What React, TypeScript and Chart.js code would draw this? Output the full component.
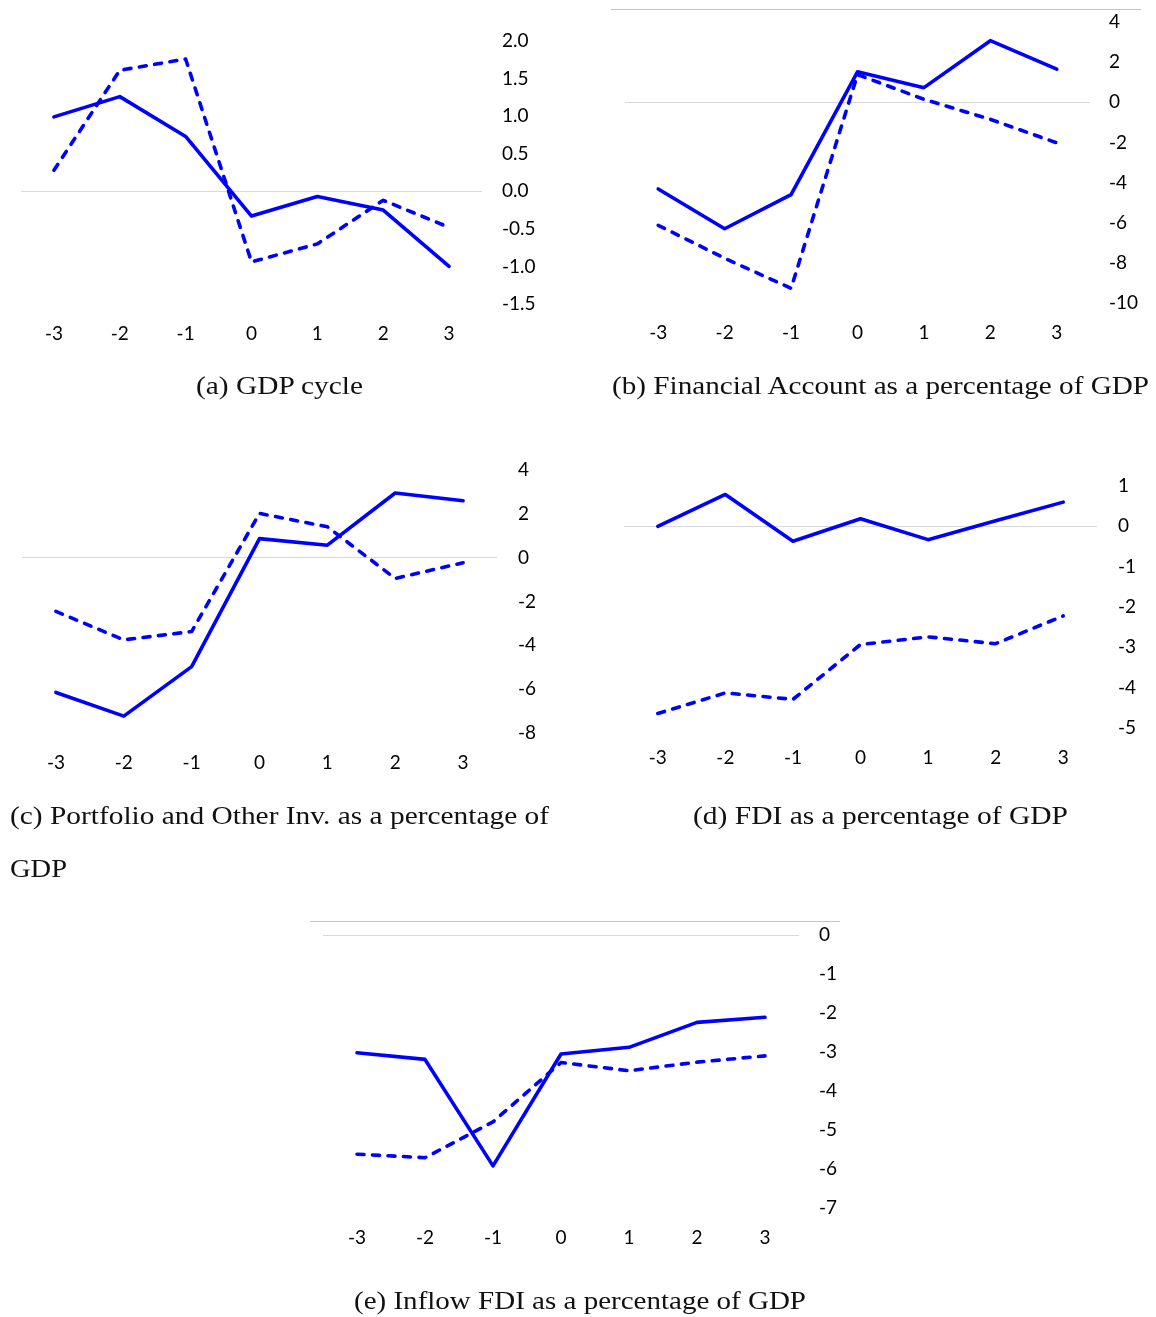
import React, { useEffect, useRef } from 'react';
import { Chart, registerables } from 'chart.js';

Chart.register(...registerables);

// ---------- data ----------
const periods = ['-3', '-2', '-1', '0', '1', '2', '3'];

const gdpSolid = [0.99, 1.26, 0.73, -0.33, -0.07, -0.25, -1.0];
const gdpDashed = [0.28, 1.61, 1.76, -0.94, -0.7, -0.12, -0.48];

const faSolid = [-4.32, -6.3, -4.6, 1.52, 0.73, 3.07, 1.65];
const faDashed = [-6.13, -7.77, -9.27, 1.38, 0.15, -0.85, -2.02];

const portSolid = [-6.15, -7.23, -4.97, 0.87, 0.57, 2.95, 2.6];
const portDashed = [-2.45, -3.75, -3.37, 2.02, 1.41, -0.95, -0.23];

const fdiSolid = [0.0, 0.79, -0.37, 0.19, -0.33, 0.14, 0.6];
const fdiDashed = [-4.64, -4.13, -4.29, -2.93, -2.74, -2.91, -2.22];

const inflowSolid = [-3.02, -3.19, -5.92, -3.05, -2.88, -2.24, -2.11];
const inflowDashed = [-5.62, -5.71, -4.79, -3.27, -3.48, -3.26, -3.1];

const captionA = '(a) GDP cycle';
const captionB = '(b) Financial Account as a percentage of GDP';
const captionC1 = '(c) Portfolio and Other Inv. as a percentage of';
const captionC2 = 'GDP';
const captionD = '(d) FDI as a percentage of GDP';
const captionE = '(e) Inflow FDI as a percentage of GDP';

// ---------- layout constants ----------
const PADT = 40;
const YW = 70;
const XH = 50;
const BLUE = '#0000ff';
const TICK_FONT = { family: 'Lato, "Open Sans", sans-serif', size: 19 };

type PanelProps = {
  plotLeft: number;
  plotTop: number;
  plotRight: number;
  plotBottom: number;
  yMin: number;
  yMax: number;
  step: number;
  decimals: number;
  yPad: number;
  xPad: number;
  solid: number[];
  dashed: number[];
};

function Panel(p: PanelProps) {
  const ref = useRef<HTMLCanvasElement | null>(null);
  const w = p.plotRight - p.plotLeft + YW;
  const h = PADT + (p.plotBottom - p.plotTop) + XH;
  useEffect(() => {
    if (!ref.current) return;
    const chart = new Chart(ref.current, {
      type: 'line',
      data: {
        labels: periods,
        datasets: [
          {
            data: p.solid,
            borderColor: BLUE,
            borderWidth: 3.6,
            pointRadius: 0,
            tension: 0,
            fill: false,
            borderJoinStyle: 'round',
            borderCapStyle: 'round',
          },
          {
            data: p.dashed,
            borderColor: BLUE,
            borderWidth: 3.6,
            borderDash: [7, 8.5],
            pointRadius: 0,
            tension: 0,
            fill: false,
            borderJoinStyle: 'round',
            borderCapStyle: 'round',
          },
        ],
      },
      options: {
        animation: false,
        responsive: false,
        maintainAspectRatio: false,
        layout: { padding: { top: PADT, left: 0, right: 0, bottom: 0 } },
        plugins: { legend: { display: false }, tooltip: { enabled: false }, title: { display: false } },
        scales: {
          x: {
            type: 'category',
            offset: true,
            grid: { display: false, drawTicks: false },
            border: { display: false },
            ticks: { padding: p.xPad, font: TICK_FONT, color: '#000', maxRotation: 0, autoSkip: false },
            afterFit: (s: any) => {
              s.height = XH;
            },
          },
          y: {
            position: 'right',
            min: p.yMin,
            max: p.yMax,
            border: { display: false },
            grid: {
              drawTicks: false,
              lineWidth: 1,
              color: (ctx: any) =>
                ctx.tick && Math.abs(ctx.tick.value) < 1e-9 ? '#d9d9d9' : 'rgba(0,0,0,0)',
            },
            ticks: {
              stepSize: p.step,
              padding: p.yPad,
              font: TICK_FONT,
              color: '#000',
              callback: (v: any) => Number(v).toFixed(p.decimals),
            },
            afterFit: (s: any) => {
              s.width = YW;
            },
          },
        },
      } as any,
    });
    return () => chart.destroy();
  }, []);
  return (
    <canvas
      ref={ref}
      width={w}
      height={h}
      style={{ position: 'absolute', left: p.plotLeft, top: p.plotTop - PADT, width: w, height: h }}
    />
  );
}

function Caption({ x1, x2, y, text }: { x1: number; x2: number; y: number; text: string }) {
  return (
    <text
      x={x1}
      y={y}
      textLength={x2 - x1}
      lengthAdjust="spacingAndGlyphs"
      fontFamily='"Liberation Serif", "DejaVu Serif", serif'
      fontSize={26}
      fill="#111"
    >
      {text}
    </text>
  );
}

export default function App() {
  return (
    <div style={{ position: 'absolute', left: 0, top: 0, width: 1156, height: 1317, background: '#fff', overflow: 'hidden' }}>
      <div style={{ position: 'absolute', left: 611, top: 9, width: 530, height: 0, borderTop: '1px solid #c4c4c4' }} />
      <div style={{ position: 'absolute', left: 310, top: 921, width: 530, height: 0, borderTop: '1px solid #c4c4c4' }} />

      <Panel plotLeft={21} plotRight={482} plotTop={41} plotBottom={304} yMin={-1.5} yMax={2} step={0.5} decimals={1} yPad={20} xPad={18} solid={gdpSolid} dashed={gdpDashed} />
      <Panel plotLeft={625} plotRight={1090} plotTop={22} plotBottom={303} yMin={-10} yMax={4} step={2} decimals={0} yPad={19} xPad={18} solid={faSolid} dashed={faDashed} />
      <Panel plotLeft={22} plotRight={497} plotTop={470} plotBottom={733} yMin={-8} yMax={4} step={2} decimals={0} yPad={21} xPad={18} solid={portSolid} dashed={portDashed} />
      <Panel plotLeft={624} plotRight={1097} plotTop={486} plotBottom={728} yMin={-5} yMax={1} step={1} decimals={0} yPad={21} xPad={18} solid={fdiSolid} dashed={fdiDashed} />
      <Panel plotLeft={323} plotRight={799} plotTop={935} plotBottom={1208} yMin={-7} yMax={0} step={1} decimals={0} yPad={20} xPad={18} solid={inflowSolid} dashed={inflowDashed} />

      <svg width={1156} height={1317} style={{ position: 'absolute', left: 0, top: 0, pointerEvents: 'none' }}>
        <Caption x1={196} x2={363} y={394} text={captionA} />
        <Caption x1={612} x2={1149} y={394} text={captionB} />
        <Caption x1={10} x2={549} y={824} text={captionC1} />
        <Caption x1={10} x2={67} y={877} text={captionC2} />
        <Caption x1={693} x2={1068} y={824} text={captionD} />
        <Caption x1={354} x2={806} y={1309} text={captionE} />
      </svg>
    </div>
  );
}
